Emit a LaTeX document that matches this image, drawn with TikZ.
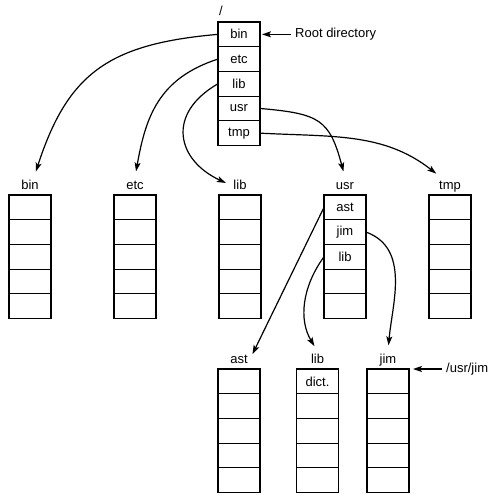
\documentclass[tikz,border=0pt]{standalone}
\usepackage{fontspec}
\setmainfont{Liberation Sans}
\usepackage{tikz}
\usetikzlibrary{arrows.meta,positioning}

\tikzset{
  cell/.style={draw, line width=1.2pt, minimum width=42pt, minimum height=24.7pt,
    inner sep=0pt, outer sep=0pt, font=\fontsize{13}{15}\selectfont},
  dirname/.style={inner sep=2pt, anchor=base, text height=9.5pt, text depth=2.5pt,
    font=\fontsize{13}{15}\selectfont},
  note/.style={inner sep=4pt, font=\fontsize{13}{15}\selectfont},
  link/.style={line width=1.2pt, -{Stealth[length=9pt,width=6pt,inset=2pt]}},
  tolabel/.style={shorten >=6pt},
}

% one directory: name, x, top y, entries
\newcommand{\dirstack}[4]{%
  \foreach \entry [count=\i] in {#4}
    \node[cell] (#1-\i) at (#2, {#3-(\i-0.5)*24.7}) {\entry};
}

\begin{document}
\begin{tikzpicture}[x=1pt,y=1pt]
  \useasboundingbox (0,0) rectangle (500,-503);

  \dirstack{root}{239}{-22}{bin,etc,lib,usr,tmp}
  \dirstack{bin}{30}{-195}{{},{},{},{},{}}
  \dirstack{etc}{135}{-195}{{},{},{},{},{}}
  \dirstack{lib}{240}{-195}{{},{},{},{},{}}
  \dirstack{usr}{345}{-195}{ast,jim,lib,{},{}}
  \dirstack{tmp}{450}{-195}{{},{},{},{},{}}
  \dirstack{ast}{239}{-369}{{},{},{},{},{}}
  \dirstack{usrlib}{317.5}{-369}{dict.,{},{},{},{}}
  \dirstack{jim}{388}{-369}{{},{},{},{},{}}

  \node[dirname] (root-lbl) at ([shift={(3pt,6pt)}]root-1.north west) {/};
  \foreach \d/\t in {bin/bin,etc/etc,lib/lib,usr/usr,tmp/tmp,ast/ast,usrlib/lib,jim/jim}
    \node[dirname] (\d-lbl) at ([yshift=6pt]\d-1.north) {\t};

  \node[note, right=31pt of root-1.east] (root-note) {Root directory};
  \node[note, right=33pt of jim-1.north east] (jim-note) {/usr/jim};

  \draw[link, shorten >=2pt] (root-note.west) -- (root-1.east);
  \draw[link, shorten >=4pt] (jim-note.west) -- (jim-1.north east);

  \draw[link, tolabel] (root-1.west) to[out=185, in=72, looseness=1.2] ([xshift=4pt]bin-lbl.north);
  \draw[link, tolabel] (root-2.west) to[out=198, in=80, looseness=1.1] (etc-lbl.north);
  \draw[link, tolabel] (root-3.west) to[out=210, in=155, looseness=1.5] (lib-lbl.west);
  \draw[link, tolabel] (root-4.east) to[out=-5, in=105, looseness=1.4] (usr-lbl.north);
  \draw[link, tolabel] (root-5.east) to[out=-3, in=142] ([xshift=4pt]tmp-lbl.north west);

  \draw[link, tolabel] (usr-1.west) -- (ast-lbl.east);
  \draw[link, tolabel] (usr-2.east) to[out=-20, in=85] (jim-lbl.north);
  \draw[link, tolabel] (usr-3.west) to[out=234, in=121] (usrlib-lbl.north);
\end{tikzpicture}
\end{document}
